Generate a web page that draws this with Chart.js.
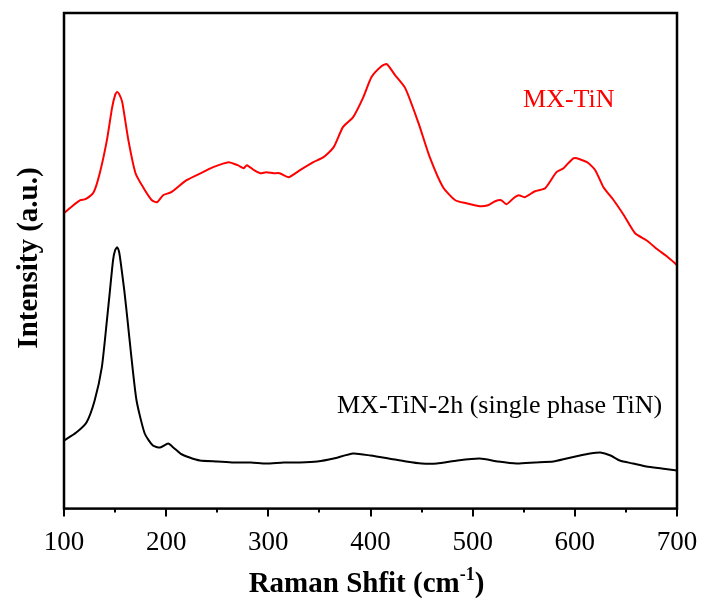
<!DOCTYPE html>
<html>
<head>
<meta charset="utf-8">
<script src="https://cdn.jsdelivr.net/npm/chart.js@4"></script>
<style>
  html, body { margin: 0; padding: 0; background: #fff; }
  #wrap { width: 704px; height: 602px; }
</style>
</head>
<body>
<div id="wrap"><canvas id="raman"></canvas></div>
<script>
// Raman shift (cm-1) and intensity (a.u., arbitrary offset scale)
const xTicks = [100, 200, 300, 400, 500, 600, 700];

const tinShift = [100, 108, 116, 121, 129, 135, 142, 147, 150, 152, 154, 157, 163, 170, 178, 186, 191, 197, 205, 220, 236, 246, 261, 270, 276, 279, 286, 292, 298, 305, 311, 320, 331, 344, 354, 364, 373, 383, 393, 401, 411, 416, 424, 434, 447, 458, 471, 483, 494, 507, 515, 522, 528, 533, 540, 545, 551, 561, 571, 582, 589, 599, 612, 620, 628, 638, 648, 659, 670, 682, 690, 698, 700];
const tinIntensity = [295, 302, 308, 309, 316, 335, 368, 400, 413, 416, 414, 406, 368, 335, 320, 308, 306, 313, 316, 328, 336, 341, 346, 343, 340, 343, 338, 335, 336, 335, 335, 331, 338, 346, 351, 361, 381, 391, 411, 431, 442, 444, 433, 420, 385, 351, 321, 308, 305, 302, 303, 307, 308, 304, 310, 313, 311, 317, 320, 336, 340, 350, 346, 338, 321, 308, 293, 275, 268, 258, 252, 245, 243];

const tin2hShift = [100, 112, 122, 130, 137, 142, 145, 148, 150, 152, 154, 156, 159, 162, 166, 171, 179, 187, 194, 202, 207, 214, 223, 233, 250, 266, 283, 298, 315, 331, 348, 364, 383, 400, 418, 435, 450, 465, 485, 507, 525, 543, 561, 579, 592, 605, 615, 625, 635, 644, 657, 670, 685, 700];
const tin2hIntensity = [68, 76, 86, 108, 141, 188, 218, 248, 258, 261, 256, 242, 218, 190, 151, 108, 75, 63, 61, 65, 61, 55, 51, 48, 47, 46, 46, 45, 46, 46, 47, 50, 55, 53, 50, 47, 45, 45, 48, 50, 47, 45, 46, 47, 50, 53, 55, 56, 53, 48, 45, 42, 40, 38];

const seriesNames = ['MX-TiN', 'MX-TiN-2h (single phase TiN)'];
const seriesColors = ['#ff0000', '#000000'];

const serif = '"Liberation Serif", "Times New Roman", serif';

function toPoints(xs, ys) {
    return xs.map((x, i) => ({x: x, y: ys[i]}));
}

// box frame, outward ticks (major + minor), axis titles, in-plot labels
const decor = {
    id: 'decor',
    afterDraw(chart) {
        const ctx = chart.ctx;
        const a = chart.chartArea;
        const xs = chart.scales.x;
        ctx.save();
        ctx.strokeStyle = '#000';
        ctx.lineWidth = 2.5;
        ctx.strokeRect(a.left, a.top, a.right - a.left, a.bottom - a.top);

        ctx.lineWidth = 2;
        for (let v = 100; v <= 700; v += 50) {
            const px = Math.round(xs.getPixelForValue(v));
            const len = (v % 100 === 0) ? 8 : 4;
            ctx.beginPath();
            ctx.moveTo(px, a.bottom);
            ctx.lineTo(px, a.bottom + len);
            ctx.stroke();
        }

        // x title with superscript
        ctx.fillStyle = '#000';
        ctx.textBaseline = 'alphabetic';
        const main = 'Raman Shfit (cm';
        ctx.font = 'bold 29px ' + serif;
        const w1 = ctx.measureText(main).width;
        ctx.font = 'bold 18px ' + serif;
        const w2 = ctx.measureText('-1').width;
        ctx.font = 'bold 29px ' + serif;
        const w3 = ctx.measureText(')').width;
        let sx = (a.left + a.right) / 2 - 4 - (w1 + w2 + w3) / 2;
        const by = 592;
        ctx.textAlign = 'left';
        ctx.fillText(main, sx, by);
        ctx.font = 'bold 18px ' + serif;
        ctx.fillText('-1', sx + w1, by - 12);
        ctx.font = 'bold 29px ' + serif;
        ctx.fillText(')', sx + w1 + w2, by);

        // y title
        ctx.save();
        ctx.translate(37, 258);
        ctx.rotate(-Math.PI / 2);
        ctx.textAlign = 'center';
        ctx.font = 'bold 29px ' + serif;
        ctx.fillText('Intensity (a.u.)', 0, 0);
        ctx.restore();

        // series labels
        ctx.textAlign = 'left';
        ctx.textBaseline = 'middle';
        ctx.font = '26px ' + serif;
        ctx.fillStyle = seriesColors[0];
        ctx.fillText(seriesNames[0], 523, 100);
        ctx.fillStyle = seriesColors[1];
        ctx.fillText(seriesNames[1], 337, 406);
        ctx.restore();
    }
};

new Chart(document.getElementById('raman'), {
    type: 'scatter',
    data: {
        datasets: [
            {
                label: seriesNames[0],
                data: toPoints(tinShift, tinIntensity),
                showLine: true,
                borderColor: seriesColors[0],
                borderWidth: 2,
                pointRadius: 0,
                tension: 0.2
            },
            {
                label: seriesNames[1],
                data: toPoints(tin2hShift, tin2hIntensity),
                showLine: true,
                borderColor: seriesColors[1],
                borderWidth: 2,
                pointRadius: 0,
                tension: 0.2
            }
        ]
    },
    options: {
        responsive: true,
        maintainAspectRatio: false,
        animation: false,
        layout: {padding: {left: 64, right: 27, top: 13, bottom: 25}},
        plugins: {legend: {display: false}, tooltip: {enabled: false}},
        scales: {
            x: {
                type: 'linear',
                min: 100,
                max: 700,
                afterBuildTicks: (scale) => { scale.ticks = xTicks.map(v => ({value: v})); },
                // layout padding already leaves room for the end labels
                afterFit: (scale) => { scale.paddingLeft = 0; scale.paddingRight = 0; },
                grid: {display: false, drawTicks: false},
                border: {display: false},
                ticks: {
                    color: '#000',
                    padding: 18,
                    font: {family: serif, size: 27},
                    maxRotation: 0
                }
            },
            y: {
                display: false,
                min: 0,
                max: 495
            }
        }
    },
    plugins: [decor]
});
</script>
</body>
</html>
